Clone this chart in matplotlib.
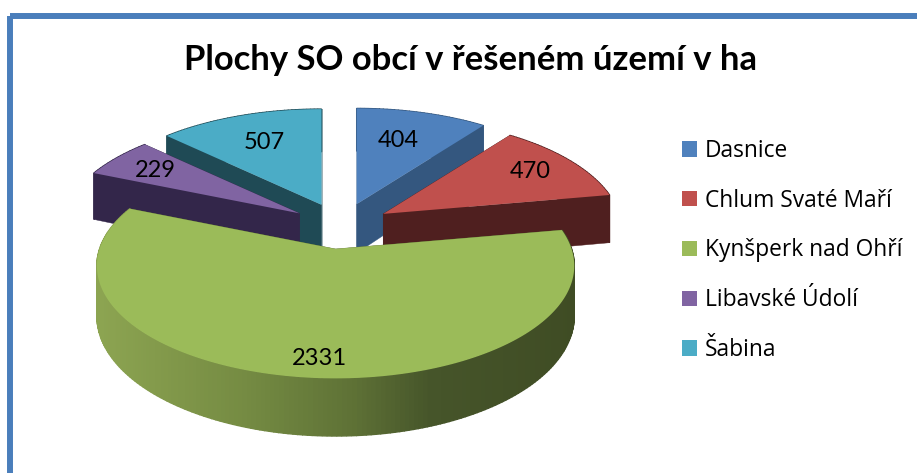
#!/usr/bin/python3
import matplotlib
matplotlib.use('Agg')
import matplotlib.pyplot as plt
from matplotlib.patches import Patch, Polygon, Rectangle
from matplotlib.colors import to_rgb
import numpy as np

TITLE = 'Plochy SO obcí v řešeném území v ha'
names = ['Dasnice', 'Chlum Svaté Maří', 'Kynšperk nad Ohří', 'Libavské Údolí', 'Šabina']
values = [404, 470, 2331, 229, 507]

top_colors = ['#4f81bd', '#c0504d', '#9bbb59', '#8064a2', '#4bacc6']
wall_colors = ['#34577f', '#4f1f1f', '#5f7236', '#33264a', '#1f4a55']
draw_order = [0, 4, 3, 1, 2]  # back to front

# pixel layout of the squashed pie
W, H = 917, 473
cx, cy = 341, 226
rx, ry = 236, 110
persp = 0.15
explode = 0.21
depth = 49
label_pos = [(398, 140), (530, 171), (319, 358), (155, 170), (264, 142)]

# shading of the big rim, by screen x
shade_x = [100, 250, 350, 430, 575]
shade_c = ['#8ca451', '#748a42', '#5f7236', '#46552a', '#3f4c24']


def project(theta, r=1.0):
    v = r * np.cos(theta)
    s = 1 / (1 + persp * v)
    return rx * r * np.sin(theta) * s, -ry * v * s, depth * s


def shade(x):
    rgb = np.array([to_rgb(c) for c in shade_c])
    return [np.interp(x, shade_x, rgb[:, i]) for i in range(3)]


fig = plt.figure(figsize=(W / 100, H / 100), dpi=100)
ax = fig.add_axes([0, 0, 1, 1])
ax.set_xlim(0, W)
ax.set_ylim(H, 0)
ax.axis('off')

ax.add_patch(Rectangle((10, 16), 2000, 2000, fill=False, edgecolor='#4a7ebb', linewidth=4.3,
                       joinstyle='round', clip_on=True))

shares = np.array(values) / sum(values)
edges = np.concatenate([[0], np.cumsum(shares)]) * 2 * np.pi

for i in draw_order:
    t0, t1 = edges[i], edges[i + 1]
    mid = (t0 + t1) / 2
    ax0 = cx + explode * rx * np.sin(mid)
    ay0 = cy - explode * ry * np.cos(mid)
    thetas = np.linspace(t0, t1, max(int(np.degrees(t1 - t0)), 8))
    px, py, pd = project(thetas)
    px, py = px + ax0, py + ay0
    apex_d = project(0, 0)[2]

    # radial walls first, they sit behind the rim when both show
    for j in (0, -1):
        ax.add_patch(Polygon([(ax0, ay0), (px[j], py[j]), (px[j], py[j] + pd[j]), (ax0, ay0 + apex_d)],
                             closed=True, facecolor=wall_colors[i], edgecolor=wall_colors[i], linewidth=0.3))
    # rim wall
    for j in range(len(px) - 1):
        col = shade((px[j] + px[j + 1]) / 2) if i == 2 else wall_colors[i]
        ax.add_patch(Polygon([(px[j], py[j]), (px[j + 1], py[j + 1]),
                              (px[j + 1], py[j + 1] + pd[j + 1]), (px[j], py[j] + pd[j])],
                             closed=True, facecolor=col, edgecolor=col, linewidth=1.0))
    # top face
    ax.add_patch(Polygon(np.column_stack([np.r_[ax0, px], np.r_[ay0, py]]), closed=True,
                         facecolor=top_colors[i], edgecolor='none'))

for val, (lx, ly) in zip(values, label_pos):
    ax.text(lx, ly, str(val), fontsize=17, family='Lato', color='black', ha='center', va='center')

ax.text(470, 60, TITLE, fontsize=24.9, family='Lato', fontweight='bold', color='black', ha='center', va='center')

handles = [Patch(facecolor=c, edgecolor='none') for c in top_colors]
leg = ax.legend(handles, names, loc='upper left', bbox_to_anchor=(682 / W, 1 - 139 / H), frameon=False,
                prop={'family': 'Open Sans', 'size': 16.4}, handlelength=0.66, handleheight=0.66,
                handletextpad=0.35, labelspacing=1.13, borderpad=0, borderaxespad=0)

fig.savefig('out.png', dpi=100)
